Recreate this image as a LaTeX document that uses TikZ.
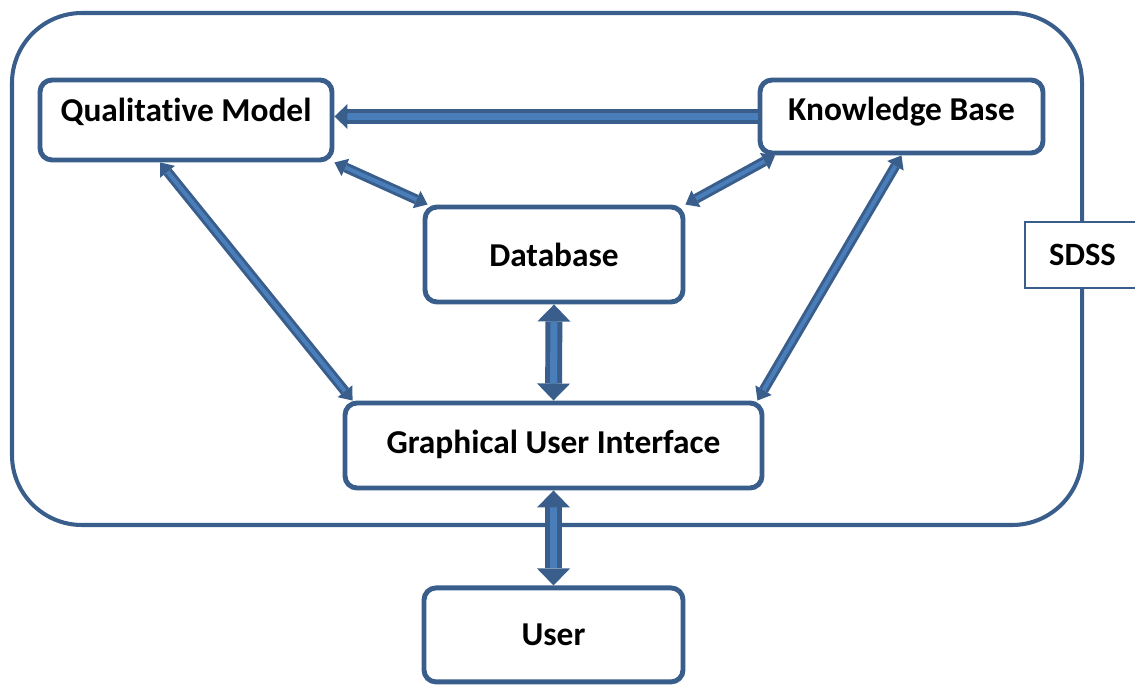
\documentclass[tikz,border=0pt]{standalone}
\usepackage{fontspec}
\setmainfont{Carlito}[Ligatures=NoCommon]
\usetikzlibrary{arrows.meta}
\usetikzlibrary{positioning}
\definecolor{Box-Edge}{RGB}{58,94,140}
\definecolor{Arrow-Fill}{RGB}{74,126,187}

\begin{document}
\begin{tikzpicture}
    \tikzset{ blk/.style ={draw=Box-Edge, line width=2.8pt, rounded corners=0.24cm, fill=white, align=center, font=\fontsize{19}{22}\selectfont\bfseries} }
    \tikzset{ sys/.style ={draw=Box-Edge, line width=2.3pt, rounded corners=1.4cm} }
    \tikzset{ tag/.style ={draw=Box-Edge, line width=1.5pt, fill=white, font=\fontsize{18.5}{21}\selectfont\bfseries} }
    \tikzset{ wide/.style={draw=Box-Edge, line width=2.3pt, double=Arrow-Fill, double distance=4pt, >={Triangle[length=0.26cm, width=0.5cm, line width=0pt]}} }
    \tikzset{ slim/.style={draw=Box-Edge, line width=1.7pt, double=Arrow-Fill, double distance=2.3pt, >={Triangle[length=0.24cm, width=0.38cm, line width=0pt]}} }
    \tikzset{ fat/.style ={draw=Box-Edge, line width=2.8pt, double=Arrow-Fill, double distance=4pt, >={Triangle[length=0.34cm, width=0.66cm, line width=0pt]}} }

    \useasboundingbox (0,0) rectangle (22.7,13.68);

    % system frame with its tag on the right edge
    \node[sys, minimum width=21.4cm, minimum height=10.24cm] (frame) at (10.94,8.3) {};
    \node[tag, minimum width=2.3cm, minimum height=1.32cm]   (sdss)  at (21.65,8.58) {SDSS};

    \node[blk, minimum width=5.84cm, minimum height=1.6cm,  text depth=0.4cm]  (qm)   at (3.72,11.28)  {Qualitative Model};
    \node[blk, minimum width=5.66cm, minimum height=1.46cm, text depth=0.3cm]  (kb)   at (18.03,11.35) {Knowledge Base};
    \node[blk, minimum width=5.16cm, minimum height=1.9cm]                     (db)   at (11.08,8.59)  {Database};
    \node[blk, minimum width=8.34cm, minimum height=1.7cm,  text depth=0.15cm] (gui)  at (11.07,4.77)  {Graphical User Interface};
    \node[blk, minimum width=5.18cm, minimum height=1.88cm, below=1.9cm of gui] (user)               {User};

    \draw[wide, ->]  (kb.west) -- (kb.west -| qm.east);
    \draw[slim, <->] (qm.south east) -- ([xshift=0.1cm]db.north west);
    \draw[slim, <->] ([xshift=0.35cm]kb.south west) -- (db.north east);
    \draw[slim, <->] ([xshift=-0.52cm]qm.south) -- ([xshift=0.2cm]gui.north west);
    \draw[slim, <->] (kb.south) -- ([xshift=-0.14cm]gui.north east);
    \draw[fat, <->]  (db.south) -- (gui.north);
    \draw[fat, <->]  (gui.south) -- (user.north);
\end{tikzpicture}
\end{document}
